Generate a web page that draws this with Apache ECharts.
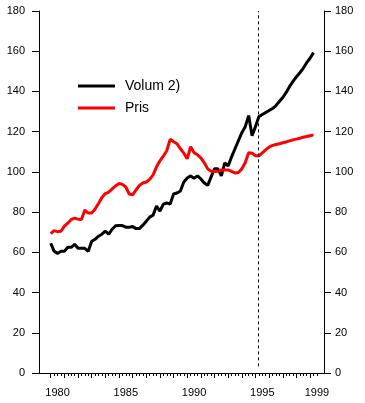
<!DOCTYPE html>
<html><head><meta charset="utf-8">
<script src="https://cdn.jsdelivr.net/npm/echarts@6/dist/echarts.min.js"></script>
<style>html,body{margin:0;padding:0;background:#fff}#c{width:365px;height:403px}</style>
</head><body><div id="c"></div>
<script>
// Quarterly data, first point = 1980 Q1
const startYear = 1980;
const seriesNames = ['Volum 2)', 'Pris'];
const volum = [
  64.5, 60.5, 59.5, 60.5, 60.5, 62.5, 62.5, 64.0, 62.0, 62.0,
  62.0, 60.5, 65.5, 66.5, 68.0, 69.0, 70.5, 69.0, 71.5, 73.2,
  73.3, 73.3, 72.5, 72.5, 72.8, 71.8, 71.8, 73.5, 75.5, 77.5,
  78.5, 83.0, 80.5, 84.0, 84.5, 84.0, 89.0, 89.5, 90.5, 95.0,
  97.0, 98.0, 96.8, 98.0, 96.5, 94.5, 93.3, 97.5, 101.5, 101.5,
  98.0, 104.5, 103.0, 107.5, 111.5, 115.5, 119.5, 122.5, 128.0, 118.0,
  122.5, 127.5, 128.5, 129.5, 130.5, 131.5, 133.0, 135.0, 137.0, 139.5,
  142.5, 145.0, 147.3, 149.3, 151.5, 154.3, 156.5, 159.3
];
const pris = [
  69.3, 70.8, 70.3, 70.5, 73.0, 74.5, 76.3, 77.0, 76.5, 76.3,
  81.0, 79.5, 79.5, 81.5, 84.3, 87.3, 89.2, 89.9, 91.5, 93.0,
  94.2, 93.8, 92.5, 89.0, 88.6, 91.0, 93.3, 94.5, 95.0, 96.3,
  98.5, 102.5, 105.5, 107.8, 110.5, 116.2, 115.0, 114.0, 111.5, 109.3,
  106.5, 112.5, 109.5, 108.5, 107.0, 104.5, 101.5, 100.3, 100.2, 100.3,
  101.0, 101.0, 101.0, 100.3, 99.5, 99.7, 101.5, 104.5, 109.5, 109.3,
  108.0, 108.0, 109.5, 111.0, 112.3, 113.2, 113.6, 114.0, 114.5, 114.9,
  115.4, 115.9, 116.3, 116.7, 117.2, 117.6, 118.0, 118.4
];
const yearLabels = ['1980', '1985', '1990', '1995', '1999'];
const yMin = 0, yMax = 180, yStep = 20;
const forecastStart = 1995.2;

const xMin = 1979.14, xMax = 2000.02;
const FONT = 'Liberation Sans, Arial, sans-serif';

const qx = i => startYear + i / 4;
const volData = volum.map((v, i) => [qx(i), v]);
const prisData = pris.map((v, i) => [qx(i), v]);

const yearTicks = [];
for (let y = 1980; y <= 1999; y++) yearTicks.push(y);
const quarterTicks = [];
for (let y = 1980; y <= 1999; y++) for (let q = 1; q < 4; q++) { if (y + q / 4 <= 1999.5) quarterTicks.push(y + q / 4); }
const labelVals = yearLabels.map(s => Number(s) + 0.5);

const chart = echarts.init(document.getElementById('c'), null, {renderer: 'canvas'});
const yAxisBase = pos => ({
  type: 'value', min: yMin, max: yMax, interval: yStep, position: pos,
  axisLine: {show: true, onZero: false, lineStyle: {color: '#000', width: 1}},
  axisTick: {show: true, inside: false, length: 7, lineStyle: {color: '#000', width: 1}},
  axisLabel: {color: '#000', fontSize: 11, fontFamily: FONT, margin: pos === 'left' ? 14 : 11},
  splitLine: {show: false}
});
chart.setOption({
  animation: false,
  backgroundColor: '#fff',
  grid: {left: 39, top: 11, width: 285, height: 362, containLabel: false},
  legend: {
    orient: 'vertical', left: 78, top: 79, padding: 0,
    itemWidth: 37, itemHeight: 3, itemGap: 8, icon: 'rect',
    textStyle: {fontSize: 14, fontFamily: FONT, color: '#000', lineHeight: 14, padding: [0, 0, 0, 5]},
    data: seriesNames
  },
  xAxis: [
    {
      type: 'value', min: xMin, max: xMax, position: 'bottom',
      axisLine: {show: true, onZero: false, lineStyle: {color: '#000', width: 1}},
      axisTick: {show: true, customValues: yearTicks, length: 5, lineStyle: {color: '#000'}},
      axisLabel: {show: true, customValues: labelVals, formatter: v => String(Math.floor(v)),
        color: '#000', fontSize: 11, fontFamily: FONT, margin: 14},
      splitLine: {show: false}
    },
    {
      type: 'value', min: xMin, max: xMax, position: 'bottom', offset: 0,
      axisLine: {show: false},
      axisTick: {show: true, customValues: quarterTicks, length: 3, lineStyle: {color: '#000'}},
      axisLabel: {show: false},
      splitLine: {show: false}
    }
  ],
  yAxis: [yAxisBase('left'), yAxisBase('right')],
  series: [
    {
      name: seriesNames[0], type: 'line', data: volData, xAxisIndex: 0, yAxisIndex: 0,
      symbol: 'none', showSymbol: false,
      lineStyle: {color: '#000', width: 3}, itemStyle: {color: '#000'},
      markLine: {
        silent: true, symbol: 'none', label: {show: false},
        lineStyle: {type: [3, 3], color: '#000', width: 1},
        data: [[{coord: [forecastStart, 3.3]}, {coord: [forecastStart, yMax]}]]
      }
    },
    {
      name: seriesNames[1], type: 'line', data: prisData, xAxisIndex: 0, yAxisIndex: 0,
      symbol: 'none', showSymbol: false,
      lineStyle: {color: '#ff0000', width: 3}, itemStyle: {color: '#ff0000'}
    }
  ]
});
</script></body></html>
